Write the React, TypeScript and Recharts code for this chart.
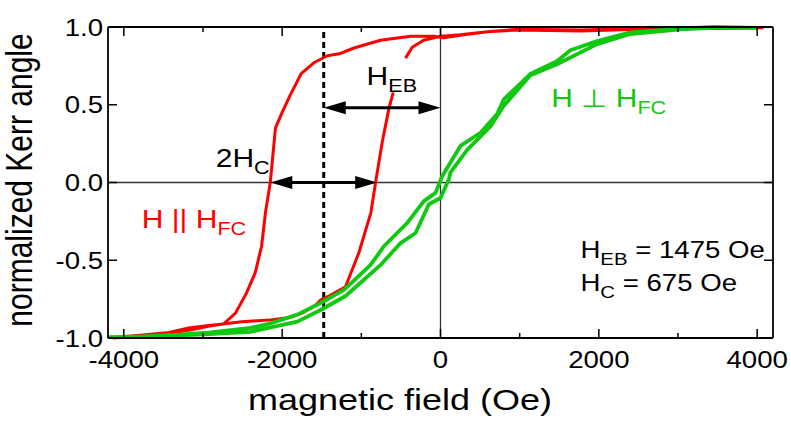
import React from "react";
import { LineChart, Line, XAxis, YAxis, ReferenceLine, ReferenceDot } from "recharts";

// ── Values: [field (Oe), normalized Kerr angle] ──

// red loop, H || H_FC: upper branch, from +saturation down to -saturation
const RED_UPPER: [number, number][] = [
  [4080, 0.995], [3500, 0.99], [3030, 0.99], [2500, 0.985], [1770, 0.975],
  [970, 0.98], [590, 0.97], [295, 0.95], [42, 0.93], [-84, 0.94],
  [-379, 0.94], [-757, 0.915], [-1094, 0.865], [-1262, 0.83], [-1430, 0.815],
  [-1600, 0.77], [-1760, 0.7], [-1900, 0.56], [-2010, 0.44], [-2085, 0.35],
  [-2150, 0.0], [-2210, -0.19], [-2260, -0.41], [-2340, -0.58], [-2450, -0.71],
  [-2590, -0.84], [-2740, -0.91], [-2930, -0.92], [-3180, -0.935], [-3430, -0.965],
  [-3760, -0.98], [-3980, -0.99], [-4126, -1.0],
];

// red loop: lower branch, from -saturation back up (gap where the H_EB label sits)
const RED_LOWER: [number, number | null][] = [
  [-4126, -1.0], [-3760, -0.985], [-3430, -0.97], [-3180, -0.95], [-2930, -0.925],
  [-2750, -0.91], [-2510, -0.895], [-2170, -0.885], [-1920, -0.87], [-1750, -0.84],
  [-1580, -0.79], [-1510, -0.755], [-1410, -0.73], [-1200, -0.67], [-1030, -0.45],
  [-880, -0.195], [-820, 0.0], [-736, 0.26], [-652, 0.475], [-597, 0.58],
  [-520, null],
  [-442, 0.8], [-357, 0.87], [-214, 0.915], [0, 0.94], [250, 0.95],
  [590, 0.97], [970, 0.985], [1770, 0.98], [2500, 0.99], [3030, 0.99],
  [3500, 0.995], [4080, 0.995],
];

// green loop, H ⊥ H_FC: branch coming down from +saturation
const GREEN_DOWN: [number, number][] = [
  [3996, 0.995], [3450, 1.0], [3030, 0.99], [2400, 0.965], [1980, 0.91],
  [1640, 0.85], [1470, 0.78], [1140, 0.7], [800, 0.535], [715, 0.44],
  [505, 0.32], [252, 0.235], [21, 0.04], [-63, -0.067], [-210, -0.12],
  [-420, -0.26], [-715, -0.41], [-883, -0.53], [-1220, -0.69], [-1514, -0.775],
  [-1808, -0.85], [-2145, -0.905], [-2400, -0.935], [-2930, -0.965], [-3350, -0.98],
  [-3760, -0.99], [-4190, -0.995],
];

// green loop: branch going back up from -saturation
const GREEN_UP: [number, number][] = [
  [-4190, -0.995], [-3760, -0.995], [-3350, -0.985], [-2930, -0.975], [-2400, -0.96],
  [-2086, -0.925], [-1808, -0.895], [-1514, -0.82], [-1199, -0.73], [-1010, -0.645],
  [-757, -0.53], [-505, -0.39], [-315, -0.325], [-147, -0.14], [0, -0.1],
  [105, 0.02], [126, 0.065], [337, 0.21], [631, 0.36], [795, 0.49],
  [1136, 0.69], [1472, 0.76], [1977, 0.89], [2397, 0.955], [3028, 0.985],
  [3449, 0.995], [3996, 0.995],
];

const X_TICKS = [-4000, -3000, -2000, -1000, 0, 1000, 2000, 3000, 4000];
const Y_TICKS = [-1, -0.5, 0, 0.5, 1];

const H_EB = 1475;
const H_C = 675;
const EB_ARROW_Y = 0.48;

// ── Styling ─────────────────────────────────────────────────────────

const RED = "#ff0000";
const GREEN = "#10c810";
const INK = "#000000";
const FONT = "'Liberation Sans', Arial, Helvetica, sans-serif";
const SX = 1.2; // the figure's text is a bit wide

const W = 791;
const H = 433;
const PLOT = { left: 108, right: 773, top: 27, bottom: 338 };

const toPoints = (pairs: [number, number | null][]) => pairs.map(([h, m]) => ({ h, m }));

const redLoop = toPoints([...RED_UPPER, ...RED_LOWER]);
const greenLoop = toPoints([...GREEN_DOWN, ...GREEN_UP]);

function SText({ x, y, size, anchor = "start", fill = INK, rotate = false, children }: any) {
  const t = `translate(${x},${y}) scale(${SX},1)` + (rotate ? " rotate(-90)" : "");
  return (
    <text transform={t} fontSize={size} textAnchor={anchor} fill={fill} fontFamily={FONT}>
      {children}
    </text>
  );
}

function XTick({ x, payload }: any) {
  const v = payload.value;
  const major = v % 2000 === 0;
  const len = major ? 9 : 5;
  return (
    <g>
      <line x1={x} x2={x} y1={PLOT.bottom} y2={PLOT.bottom - len} stroke={INK} strokeWidth={1.5} />
      <line x1={x} x2={x} y1={PLOT.top} y2={PLOT.top + len} stroke={INK} strokeWidth={1.5} />
      {major && (
        <SText x={x} y={368} size={23} anchor="middle">
          {String(v)}
        </SText>
      )}
    </g>
  );
}

function YTick({ y, payload }: any) {
  return (
    <g>
      <line x1={PLOT.left} x2={PLOT.left + 9} y1={y} y2={y} stroke={INK} strokeWidth={1.5} />
      <line x1={PLOT.right} x2={PLOT.right - 9} y1={y} y2={y} stroke={INK} strokeWidth={1.5} />
      <SText x={103} y={y + 8.5} size={23} anchor="end">
        {payload.value.toFixed(1)}
      </SText>
    </g>
  );
}

function DoubleArrow({ x1, y1, x2, y2 }: any) {
  const L = 22;
  const hw = 6.5;
  return (
    <g>
      <line x1={x1 + L - 2} y1={y1} x2={x2 - L + 2} y2={y2} stroke={INK} strokeWidth={3} />
      <polygon points={`${x1},${y1} ${x1 + L},${y1 - hw} ${x1 + L},${y1 + hw}`} fill={INK} />
      <polygon points={`${x2},${y2} ${x2 - L},${y2 - hw} ${x2 - L},${y2 + hw}`} fill={INK} />
    </g>
  );
}

// label with a subscript part; "rest" continues on the baseline
const subLabel = (main: string, sub: string, rest: string, size: number, subSize: number, fill = INK) =>
  (p: any) => (
    <SText x={p.cx} y={p.cy} size={size} fill={fill}>
      {main}
      <tspan fontSize={subSize} dy={7}>{sub}</tspan>
      {rest && <tspan dy={-7}>{rest}</tspan>}
    </SText>
  );

export default function App() {
  return (
    <div style={{ position: "absolute", left: 0, top: 0, width: W, height: H, background: "#fff" }}>
      <LineChart
        width={W}
        height={H}
        margin={{ top: PLOT.top, right: W - PLOT.right, bottom: H - PLOT.bottom - 30, left: PLOT.left - 60 }}
      >
        <XAxis
          type="number"
          dataKey="h"
          domain={[-4200, 4200]}
          ticks={X_TICKS}
          interval={0}
          height={30}
          axisLine={false}
          tickLine={false}
          tick={(p: any) => <XTick {...p} />}
          label={() => (
            <SText x={400} y={410} size={30} anchor="middle">
              magnetic field (Oe)
            </SText>
          )}
        />
        <YAxis
          type="number"
          domain={[-1, 1]}
          ticks={Y_TICKS}
          interval={0}
          width={60}
          axisLine={false}
          tickLine={false}
          tick={(p: any) => <YTick {...p} />}
          label={() => (
            <SText x={32} y={180} size={30} anchor="middle" rotate>
              normalized Kerr angle
            </SText>
          )}
        />

        <ReferenceLine y={0} stroke="#333" strokeWidth={1.3} />
        <ReferenceLine x={0} stroke="#333" strokeWidth={1.3} />
        <ReferenceLine x={-H_EB} stroke={INK} strokeWidth={3} strokeDasharray="6 4" />

        <Line data={redLoop} dataKey="m" stroke={RED} strokeWidth={3} dot={false}
          strokeLinejoin="round" isAnimationActive={false} />
        <Line data={greenLoop} dataKey="m" stroke={GREEN} strokeWidth={3.8} dot={false}
          strokeLinejoin="round" isAnimationActive={false} />

        <ReferenceLine
          segment={[{ x: -H_EB, y: EB_ARROW_Y }, { x: 0, y: EB_ARROW_Y }]}
          shape={(p: any) => <DoubleArrow {...p} />}
        />
        <ReferenceLine
          segment={[{ x: -H_EB - H_C, y: 0 }, { x: -H_EB + H_C, y: 0 }]}
          shape={(p: any) => <DoubleArrow {...p} />}
        />

        {/* frame */}
        <ReferenceLine y={1} stroke={INK} strokeWidth={1.8} />
        <ReferenceLine y={-1} stroke={INK} strokeWidth={1.8} />
        <ReferenceLine x={-4200} stroke={INK} strokeWidth={1.8} />
        <ReferenceLine x={4200} stroke={INK} strokeWidth={1.8} />

        <ReferenceDot x={-934} y={0.63} r={0} shape={subLabel("H", "EB", "", 25, 18)} />
        <ReferenceDot x={-2839} y={0.1} r={0} shape={subLabel("2H", "C", "", 25, 18)} />
        <ReferenceDot x={1400} y={0.485} r={0} shape={subLabel("H \u22a5 H", "FC", "", 25, 18, GREEN)} />
        <ReferenceDot x={-3773} y={-0.293} r={0} shape={subLabel("H || H", "FC", "", 25, 18, RED)} />
        <ReferenceDot x={1767} y={-0.484} r={0} shape={subLabel("H", "EB", ` = ${H_EB} Oe`, 23, 17)} />
        <ReferenceDot x={1767} y={-0.7} r={0} shape={subLabel("H", "C", ` = ${H_C} Oe`, 23, 17)} />
      </LineChart>
    </div>
  );
}
